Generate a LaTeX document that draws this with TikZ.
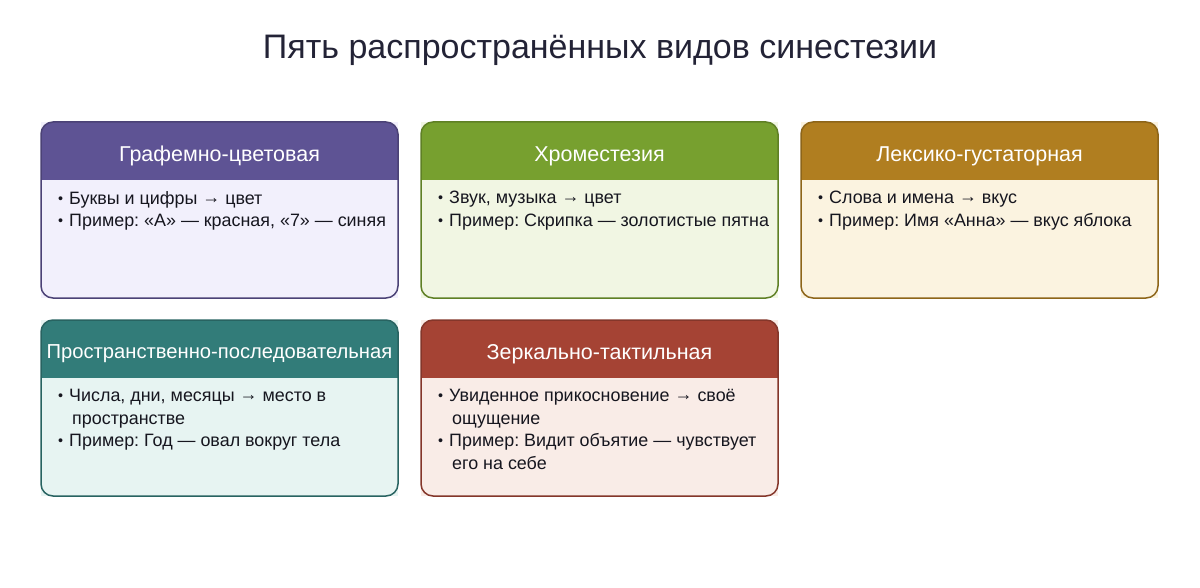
\documentclass[tikz,border=0pt]{standalone}
\usepackage{fontspec}
\setmainfont{Liberation Sans}
\usetikzlibrary{calc}
\frenchspacing
\definecolor{titlecol}{HTML}{232336}
\definecolor{textcol}{HTML}{16161F}
\definecolor{hA}{HTML}{5E5394}\definecolor{bA}{HTML}{F2F0FC}
\definecolor{hB}{HTML}{77A02F}\definecolor{bB}{HTML}{F1F6E3}
\definecolor{hC}{HTML}{B07E20}\definecolor{bC}{HTML}{FBF3E0}
\definecolor{hD}{HTML}{327C79}\definecolor{bD}{HTML}{E7F4F2}
\definecolor{hE}{HTML}{A54334}\definecolor{bE}{HTML}{F9ECE7}
\tikzset{
  cardbox/.style={draw=none, inner sep=0pt, outer sep=0pt, minimum width=357pt, minimum height=176pt, anchor=north west},
  headtext/.style={text=white, font=\fontsize{21.5}{26}\selectfont, inner sep=0pt},
  bodytext/.style={text=textcol, font=\fontsize{17.9}{22.7}\selectfont, align=left, inner sep=0pt, anchor=north west},
  titletext/.style={text=titlecol, font=\fontsize{34}{40}\selectfont, inner sep=0pt}
}
\newcommand\bl{\makebox[11pt][l]{\raisebox{1pt}{\scalebox{0.8}{•}}}}
\newcommand\ind{\hspace*{14pt}}
\newcommand\ar{\raisebox{1pt}{→}}
\newcommand\synCard[8][]{%
  \node[cardbox, fill=#6] (#2) at (#3,#4) {};
  \begin{scope}
    \clip[rounded corners=12pt] (#2.north west) rectangle (#2.south east);
    \fill[#5] (#2.north west) rectangle ($(#2.north east)+(0,58)$);
  \end{scope}
  \draw[#5!80!black, line width=1.5pt, rounded corners=12pt] (#2.north west) rectangle (#2.south east);
  \node[headtext,#1] (#2-t) at ($(#2.north)+(0,34)$) {#7};
  \node[bodytext] (#2-b) at ($(#2.north west)+(17,69)$) {#8};
}
\begin{document}
\begin{tikzpicture}[x=1pt,y=-1pt]
\useasboundingbox[fill=white] (0,0) rectangle (1200,588);
\node[titletext] (title) at (600,50) {Пять распространённых видов синестезии};
\synCard{c1}{41}{122}{hA}{bA}{Графемно-цветовая}{\bl Буквы и цифры \ar{} цвет\\\bl Пример: «А» — красная, «7» — синяя}
\synCard{c2}{421}{122}{hB}{bB}{Хроместезия}{\bl Звук, музыка \ar{} цвет\\\bl Пример: Скрипка — золотистые пятна}
\synCard{c3}{801}{122}{hC}{bC}{Лексико-густаторная}{\bl Слова и имена \ar{} вкус\\\bl Пример: Имя «Анна» — вкус яблока}
\synCard[font=\fontsize{20.2}{24}\selectfont]{c4}{41}{320}{hD}{bD}{Пространственно-последовательная}{\bl Числа, дни, месяцы \ar{} место в\\\ind пространстве\\\bl Пример: Год — овал вокруг тела}
\synCard{c5}{421}{320}{hE}{bE}{Зеркально-тактильная}{\bl Увиденное прикосновение \ar{} своё\\\ind ощущение\\\bl Пример: Видит объятие — чувствует\\\ind его на себе}
\end{tikzpicture}
\end{document}
